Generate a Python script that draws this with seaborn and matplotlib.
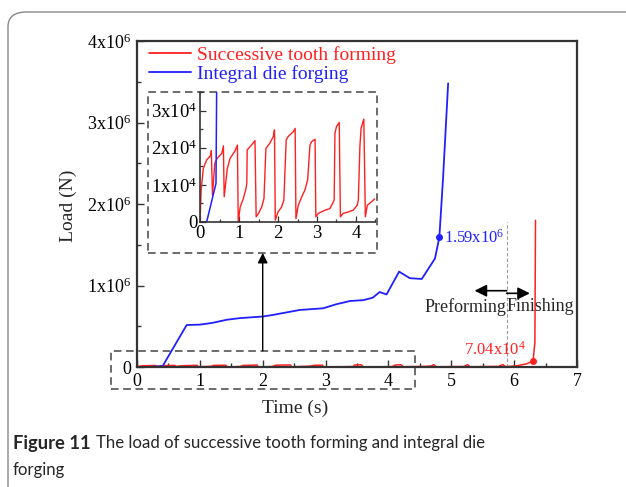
import matplotlib
matplotlib.use('Agg')
import matplotlib.pyplot as plt
import seaborn as sns
import numpy as np
import pandas as pd
from matplotlib.lines import Line2D
from matplotlib.patches import Rectangle, FancyBboxPatch
from matplotlib.ticker import MultipleLocator, FixedLocator

# Dados
# Forjamento integral (azul): tempo (s) e carga (N)
t_integral = [0.0, 0.17, 0.41, 0.43, 0.79, 1.0, 1.19, 1.43, 1.64, 2.01, 2.17, 2.38,
              2.59, 2.96, 3.17, 3.39, 3.6, 3.75, 3.86, 3.97, 4.17, 4.34, 4.53, 4.74,
              4.81, 4.87, 4.95]
load_integral = [0, 0, 1.04e4, 4.0e4, 5.15e5, 5.2e5, 5.4e5, 5.8e5, 6.0e5, 6.2e5, 6.4e5,
                 6.7e5, 7.0e5, 7.2e5, 7.7e5, 8.1e5, 8.2e5, 8.5e5, 9.2e5, 8.9e5, 1.17e6,
                 1.09e6, 1.08e6, 1.33e6, 1.59e6, 2.33e6, 3.48e6]

# Conformação sucessiva dos dentes (vermelho)
t_sucessivo = [0.0, 0.03, 0.085, 0.17, 0.28, 0.29, 0.32, 0.38, 0.44, 0.56, 0.6, 0.62,
               0.7, 0.77, 0.9, 0.96, 0.98, 1.03, 1.11, 1.18, 1.2, 1.21, 1.32, 1.41,
               1.44, 1.5, 1.58, 1.64, 1.69, 1.79, 1.88, 1.91, 1.93, 2.0, 2.09, 2.15,
               2.21, 2.26, 2.39, 2.44, 2.46, 2.52, 2.61, 2.69, 2.76, 2.82, 2.86, 2.95,
               2.97, 3.03, 3.21, 3.33, 3.4, 3.44, 3.46, 3.5, 3.57, 3.6, 3.67, 3.8,
               3.93, 4.03, 4.06, 4.1, 4.13, 4.2, 4.24, 4.29, 4.36, 4.49,
               4.6, 4.68, 4.72, 4.76, 5.2, 5.26, 5.30, 5.75, 5.82, 5.86, 6.05, 6.2,
               6.30, 6.33, 6.34]
load_sucessivo = [0, 0.86e4, 1.44e4, 1.67e4, 1.8e4, 1.92e4, 0.72e4, 1.58e4, 1.71e4,
                  1.85e4, 2.05e4, 0.68e4, 1.44e4, 1.71e4, 1.92e4, 2.07e4, 0, 0.4e4,
                  0.63e4, 0.9e4, 1.04e4, 1.94e4, 2.07e4, 2.19e4, 0.14e4, 0.23e4, 0.4e4,
                  0.63e4, 1.98e4, 2.12e4, 2.3e4, 2.48e4, 0.05e4, 0.27e4, 0.4e4, 0.59e4,
                  2.21e4, 2.3e4, 2.43e4, 2.52e4, 0.09e4, 0.45e4, 0.68e4, 0.86e4, 1.13e4,
                  2.07e4, 2.16e4, 2.23e4, 0.14e4, 0.23e4, 0.32e4, 0.36e4, 0.5e4, 0.59e4,
                  2.39e4, 2.57e4, 2.68e4, 0.14e4, 0.23e4, 0.27e4, 0.32e4, 0.45e4, 0.59e4,
                  2.03e4, 2.52e4, 2.77e4, 0.14e4, 0.45e4, 0.51e4, 0.63e4,
                  0.8e4, 1.2e4, 2.8e4, 0.3e4, 0.6e4, 2.9e4, 0.3e4, 0.7e4, 3.0e4, 0.4e4,
                  1.5e4, 4.0e4, 7.04e4, 3.0e5, 1.8e6]

yticks_main = [0, 1e6, 2e6, 3e6, 4e6]
yticklabels_main = ['0', r'$\mathregular{1x10^6}$', r'$\mathregular{2x10^6}$',
                    r'$\mathregular{3x10^6}$', r'$\mathregular{4x10^6}$']
yticks_inset = [0, 1e4, 2e4, 3e4]
yticklabels_inset = ['0', r'$\mathregular{1x10^4}$', r'$\mathregular{2x10^4}$',
                     r'$\mathregular{3x10^4}$']

df_int = pd.DataFrame({'t': t_integral, 'carga': load_integral})
df_suc = pd.DataFrame({'t': t_sucessivo, 'carga': load_sucessivo})

sns.set_theme(style='ticks')
plt.rcParams['font.family'] = ['Liberation Serif', 'DejaVu Serif']
plt.rcParams['mathtext.fontset'] = 'custom'
plt.rcParams['mathtext.rm'] = 'Liberation Serif'
plt.rcParams['xtick.direction'] = 'in'
plt.rcParams['ytick.direction'] = 'in'

VERMELHO = '#ff2020'
AZUL = '#2020ff'
CINZA_EIXO = '#333333'
FONTE_LEGENDA = ['Lato', 'DejaVu Sans']

fig = plt.figure(figsize=(6.26, 4.87), dpi=100)
fig.patch.set_facecolor('white')

# moldura arredondada da figura
moldura = FancyBboxPatch((8 / 626, 1 - 700 / 487), 700 / 626, (700 - 12) / 487,
                         boxstyle='round,pad=0,rounding_size=0.03',
                         transform=fig.transFigure, fill=False,
                         edgecolor='#888888', linewidth=1.0, clip_on=False)
fig.patches.append(moldura)

ax = fig.add_axes([137 / 626, 1 - 367 / 487, 440 / 626, 326 / 487])
sns.lineplot(data=df_suc, x='t', y='carga', sort=False, estimator=None,
             color=VERMELHO, linewidth=1.1, ax=ax)
sns.lineplot(data=df_int, x='t', y='carga', sort=False, estimator=None,
             color=AZUL, linewidth=1.3, ax=ax)

ax.set_xlim(0, 7)
ax.set_ylim(0, 4e6)
ax.xaxis.set_major_locator(MultipleLocator(1))
ax.xaxis.set_minor_locator(MultipleLocator(0.5))
ax.yaxis.set_major_locator(FixedLocator(yticks_main))
ax.yaxis.set_minor_locator(MultipleLocator(0.5e6))
ax.set_yticklabels(yticklabels_main)
ax.tick_params(which='major', length=5, width=1, labelsize=13, colors=CINZA_EIXO,
               labelcolor='black', pad=4)
ax.tick_params(which='minor', length=3, width=1, colors=CINZA_EIXO)
for s in ax.spines.values():
    s.set_color(CINZA_EIXO)
    s.set_linewidth(1.6)
ax.set_xlabel('')
ax.set_ylabel('')

fig.text(295 / 626, 1 - 408 / 487, 'Time (s)', ha='center', va='center', fontsize=14)
fig.text(68 / 626, 1 - 206 / 487, 'Load (N)', ha='center', va='center',
         rotation=90, fontsize=14)

# marcadores e rótulos
ax.plot([4.81], [1.59e6], 'o', color=AZUL, markersize=4)
ax.text(4.88, 1.59e6, r'$\mathregular{1.59x10^6}$', color=AZUL, fontsize=12,
        ha='left', va='center')
ax.plot([6.30], [7.04e4], 'o', color=VERMELHO, markersize=4)
ax.text(6.18, 2.1e5, r'$\mathregular{7.04x10^4}$', color=VERMELHO, fontsize=12,
        ha='right', va='center')

# linha tracejada entre pré-forma e acabamento
ax.plot([5.88, 5.88], [0, 1.78e6], color='#999999', linewidth=0.8, linestyle=(0, (3, 2)))
ax.annotate('', xy=(5.37, 0.936e6), xytext=(5.88, 0.936e6),
            arrowprops=dict(arrowstyle='-|>,head_width=0.3,head_length=0.6',
                            color='black', linewidth=1.2, shrinkA=0, shrinkB=0))
ax.annotate('', xy=(6.25, 0.904e6), xytext=(5.88, 0.904e6),
            arrowprops=dict(arrowstyle='-|>,head_width=0.3,head_length=0.6',
                            color='black', linewidth=1.2, shrinkA=0, shrinkB=0))
ax.text(5.88, 0.74e6, 'Preforming', ha='right', va='center', fontsize=13)
ax.text(5.88, 0.74e6, 'Finishing', ha='left', va='center', fontsize=13)

# retângulos tracejados (zoom)
ax.add_patch(Rectangle((-0.41, -0.27e6), 4.84, 0.47e6, fill=False, clip_on=False,
                       edgecolor='#444444', linewidth=1.1, linestyle=(0, (5, 3))))
ax.add_patch(Rectangle((0.175, 1.399e6), 3.645, 1.975e6, fill=False, clip_on=False,
                       edgecolor='#444444', linewidth=1.1, linestyle=(0, (5, 3))))
ax.annotate('', xy=(2.0, 1.40e6), xytext=(2.0, 0.2e6),
            arrowprops=dict(arrowstyle='-|>,head_width=0.25,head_length=0.5',
                            color='black', linewidth=1.0, shrinkA=0, shrinkB=0))

# legenda
handles = [Line2D([], [], color=VERMELHO, linewidth=1.3),
           Line2D([], [], color=AZUL, linewidth=1.3)]
leg = ax.legend(handles, ['Successive tooth forming', 'Integral die forging'],
                loc='upper left', bbox_to_anchor=(0.0, 1.02), frameon=False,
                fontsize=14, handlelength=2.2, handletextpad=0.3, labelspacing=0.05,
                borderaxespad=0.2)
for txt, cor in zip(leg.get_texts(), [VERMELHO, AZUL]):
    txt.set_color(cor)

# gráfico interno ampliado
axin = fig.add_axes([200 / 626, 1 - 222 / 487, 175.5 / 626, 130 / 487])
axin.set_facecolor('none')
sns.lineplot(data=df_suc, x='t', y='carga', sort=False, estimator=None,
             color=VERMELHO, linewidth=1.0, ax=axin)
sns.lineplot(data=df_int, x='t', y='carga', sort=False, estimator=None,
             color=AZUL, linewidth=1.1, ax=axin)
axin.set_xlim(0, 4.5)
axin.set_ylim(0, 3.5e4)
axin.xaxis.set_major_locator(MultipleLocator(1))
axin.xaxis.set_minor_locator(MultipleLocator(0.5))
axin.yaxis.set_major_locator(FixedLocator(yticks_inset))
axin.yaxis.set_minor_locator(MultipleLocator(0.5e4))
axin.set_yticklabels(yticklabels_inset)
axin.tick_params(which='major', length=4, width=0.9, labelsize=13.5, colors=CINZA_EIXO,
                 labelcolor='black', pad=2)
axin.tick_params(which='minor', length=2.5, width=0.9, colors=CINZA_EIXO)
axin.spines['top'].set_visible(False)
axin.spines['right'].set_visible(False)
for s in ['left', 'bottom']:
    axin.spines[s].set_color(CINZA_EIXO)
    axin.spines[s].set_linewidth(1.2)
axin.set_xlabel('')
axin.set_ylabel('')

# legenda da figura
fig.text(13 / 626, 1 - 443 / 487, 'Figure 11', fontsize=13.2, fontweight='bold',
         family=FONTE_LEGENDA, ha='left', va='center')
fig.text(96 / 626, 1 - 443 / 487, 'The load of successive tooth forming and integral die',
         fontsize=12.1, family=FONTE_LEGENDA, ha='left', va='center')
fig.text(13 / 626, 1 - 470 / 487, 'forging', fontsize=12.1,
         family=FONTE_LEGENDA, ha='left', va='center')

fig.savefig('out.png', dpi=100)
